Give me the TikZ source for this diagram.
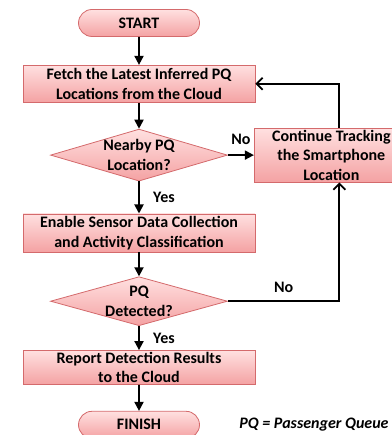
\documentclass[tikz,border=0pt]{standalone}
\usepackage{fontspec}
\setmainfont{Carlito}
\usepackage{tikz}
\usetikzlibrary{positioning, arrows.meta, shapes.geometric, shapes.misc}

\begin{document}
\begin{tikzpicture}[
    font=\fontsize{16}{19.5}\selectfont\bfseries,
    flowbox/.style={rectangle, draw=boxborder, line width=0.8pt,
        top color=boxtop, bottom color=boxbottom,
        minimum width=232pt, minimum height=37pt, inner sep=0pt, align=center},
    terminal/.style={rounded rectangle, draw=boxborder, line width=0.8pt,
        top color=boxtop, bottom color=boxbottom,
        minimum width=121pt, minimum height=27pt, inner sep=0pt},
    decision/.style={diamond, aspect=3.4, draw=boxborder, line width=0.8pt,
        top color=boxtop, bottom color=boxbottom,
        minimum width=177pt, minimum height=52pt,
        inner xsep=0pt, inner ysep=-5pt, align=center},
    flow/.style={-{Triangle[length=9pt, width=9pt]}, line width=1.8pt},
    back/.style={-{Straight Barb[length=6pt, width=12pt]}, line width=1.8pt},
]

% ── Colors ──
\definecolor{boxborder}{HTML}{D46A6C}
\definecolor{boxtop}{HTML}{FFE0E0}
\definecolor{boxbottom}{HTML}{F4A2A3}

\useasboundingbox (0pt,0pt) rectangle (391pt,-435pt);

% ══════════════════════════════════════════════
% Main column
% ══════════════════════════════════════════════
\node[terminal] (start) at (139pt,-23pt) {START};

\node[flowbox, below=28pt of start] (fetch)
    {Fetch the Latest Inferred PQ\\Locations from the Cloud};

\node[decision, below=26pt of fetch] (nearby) {Nearby PQ\\Location?};

\node[flowbox, minimum height=38pt, below=32pt of nearby] (enable)
    {Enable Sensor Data Collection\\and Activity Classification};

\node[decision, minimum height=49pt, below=24pt of enable] (detected) {PQ\\Detected?};

\node[flowbox, minimum height=34pt, below=24pt of detected] (report)
    {Report Detection Results\\to the Cloud};

\node[terminal, below=26pt of report] (finish) {FINISH};

% ══════════════════════════════════════════════
% Side box and legend
% ══════════════════════════════════════════════
\node[flowbox, minimum width=154pt, minimum height=54pt,
    right=26pt of nearby] (track)
    {Continue Tracking\\the Smartphone\\Location};

\node[font=\fontsize{16}{19.5}\selectfont\bfseries\itshape, anchor=west,
    right=36pt of finish] (legend) {PQ = Passenger Queue};

% ══════════════════════════════════════════════
% Flow arrows
% ══════════════════════════════════════════════
\draw[flow] (start) -- (fetch);
\draw[flow] (fetch) -- (nearby);
\draw[flow] (nearby) -- (enable)
    node[midway, right=10pt] {Yes};
\draw[flow] (enable) -- (detected);
\draw[flow] (detected) -- (report)
    node[midway, right=10pt] {Yes};
\draw[flow] (report) -- (finish);

\draw[flow] (nearby.east) -- (track.west)
    node[midway, above=6pt] {No};

% ══════════════════════════════════════════════
% Loops back
% ══════════════════════════════════════════════
\draw[back] (detected.east) -| ([xshift=8pt]track.south)
    node[pos=0.25, above=4pt] {No};
\draw[back] ([xshift=8pt]track.north) |- (fetch.east);

\end{tikzpicture}
\end{document}
